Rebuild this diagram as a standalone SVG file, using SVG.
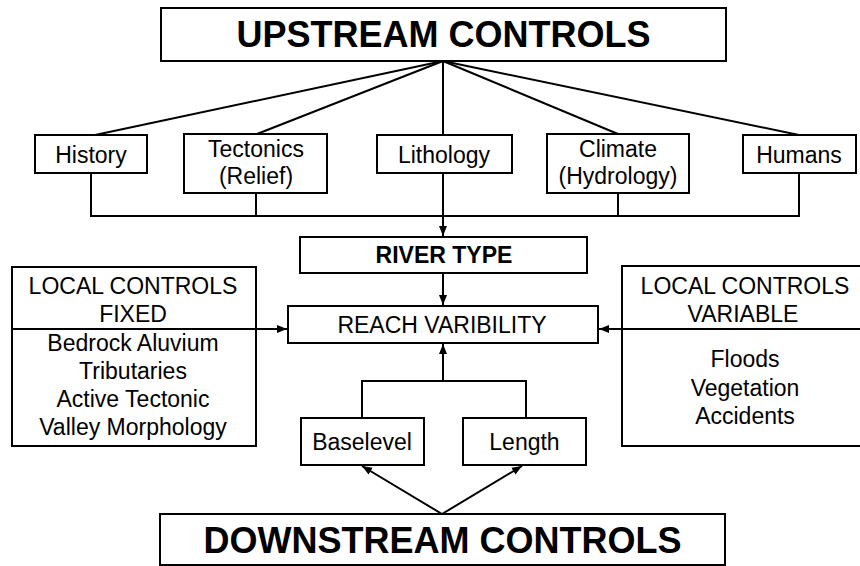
<svg xmlns="http://www.w3.org/2000/svg" width="860" height="566" viewBox="0 0 860 566">
  <style>
    .box { fill: #fff; stroke: #000; stroke-width: 2; }
    .ln { fill: none; stroke: #000; stroke-width: 2; }
    text { font-family: "Liberation Sans", Arial, sans-serif; fill: #000; text-anchor: middle; }
    .t { font-size: 23px; }
    .big { font-size: 36px; font-weight: bold; }
    .bold { font-size: 23px; font-weight: bold; }
  </style>
  <defs>
    <marker id="arrow" markerUnits="userSpaceOnUse" markerWidth="10" markerHeight="10" viewBox="0 0 10 10" refX="10" refY="5" orient="auto">
      <path d="M0,1 L10,5 L0,9 Z" fill="#000"/>
    </marker>
  </defs>
  <rect width="860" height="566" fill="#fff"/>

  <g id="connectors">
    <!-- fan from the upstream box -->
    <line class="ln" x1="443" y1="61" x2="95" y2="135"/>
    <line class="ln" x1="443" y1="61" x2="257" y2="134"/>
    <line class="ln" x1="443" y1="61" x2="443" y2="135"/>
    <line class="ln" x1="443" y1="61" x2="618" y2="134"/>
    <line class="ln" x1="443" y1="61" x2="799" y2="135"/>
    <!-- collector bus under the control boxes -->
    <polyline class="ln" points="91,173 91,216 799,216 799,173"/>
    <line class="ln" x1="256" y1="193" x2="256" y2="216"/>
    <line class="ln" x1="618" y1="193" x2="618" y2="216"/>
    <line class="ln" x1="443" y1="173" x2="443" y2="236" marker-end="url(#arrow)"/>
    <!-- river type to reach -->
    <line class="ln" x1="443" y1="273" x2="443" y2="305" marker-end="url(#arrow)"/>
    <!-- local controls -->
    <line class="ln" x1="12" y1="329" x2="287" y2="329" marker-end="url(#arrow)"/>
    <line class="ln" x1="860" y1="329" x2="599" y2="329" marker-end="url(#arrow)"/>
    <!-- baselevel and length to reach -->
    <polyline class="ln" points="362,418 362,381 526,381 526,418"/>
    <line class="ln" x1="443" y1="381" x2="443" y2="344" marker-end="url(#arrow)"/>
    <!-- downstream box to baselevel and length -->
    <line class="ln" x1="442" y1="514" x2="362" y2="466" marker-end="url(#arrow)"/>
    <line class="ln" x1="442" y1="514" x2="522" y2="466" marker-end="url(#arrow)"/>
  </g>

  <g id="upstream">
    <rect class="box" x="161" y="8" width="565" height="53"/>
    <text class="big" x="443.5" y="47">UPSTREAM CONTROLS</text>
  </g>

  <g id="history">
    <rect class="box" x="35" y="135" width="112" height="38"/>
    <text class="t" x="91" y="163">History</text>
  </g>
  <g id="tectonics">
    <rect class="box" x="184" y="134" width="143" height="59"/>
    <text class="t" x="256" y="157">Tectonics</text>
    <text class="t" x="256" y="184">(Relief)</text>
  </g>
  <g id="lithology">
    <rect class="box" x="377" y="135" width="135" height="38"/>
    <text class="t" x="444" y="163">Lithology</text>
  </g>
  <g id="climate">
    <rect class="box" x="547" y="134" width="142" height="59"/>
    <text class="t" x="618" y="157">Climate</text>
    <text class="t" x="618" y="184">(Hydrology)</text>
  </g>
  <g id="humans">
    <rect class="box" x="743" y="135" width="113" height="38"/>
    <text class="t" x="799" y="163">Humans</text>
  </g>

  <g id="river-type">
    <rect class="box" x="300" y="237" width="287" height="36"/>
    <text class="bold" x="444" y="263">RIVER TYPE</text>
  </g>

  <g id="reach">
    <rect class="box" x="288" y="306" width="310" height="37"/>
    <text class="t" x="442" y="333">REACH VARIBILITY</text>
  </g>

  <g id="local-fixed">
    <rect class="box" x="12" y="267" width="244" height="179"/>
    <line class="ln" x1="12" y1="329" x2="256" y2="329"/>
    <text class="t" x="133" y="294">LOCAL CONTROLS</text>
    <text class="t" x="133" y="322">FIXED</text>
    <text class="t" x="133" y="351">Bedrock Aluvium</text>
    <text class="t" x="133" y="379">Tributaries</text>
    <text class="t" x="133" y="407">Active Tectonic</text>
    <text class="t" x="133" y="435">Valley Morphology</text>
  </g>

  <g id="local-variable">
    <rect class="box" x="622" y="266" width="250" height="180"/>
    <line class="ln" x1="622" y1="329" x2="860" y2="329"/>
    <text class="t" x="745" y="294">LOCAL CONTROLS</text>
    <text class="t" x="743" y="322">VARIABLE</text>
    <text class="t" x="745" y="367">Floods</text>
    <text class="t" x="745" y="396">Vegetation</text>
    <text class="t" x="745" y="424">Accidents</text>
  </g>

  <g id="baselevel">
    <rect class="box" x="301" y="418" width="123" height="47"/>
    <text class="t" x="362" y="450">Baselevel</text>
  </g>
  <g id="length">
    <rect class="box" x="463" y="418" width="123" height="47"/>
    <text class="t" x="524.5" y="450">Length</text>
  </g>

  <g id="downstream">
    <rect class="box" x="160" y="514" width="565" height="51"/>
    <text class="big" x="442.5" y="553">DOWNSTREAM CONTROLS</text>
  </g>
</svg>
